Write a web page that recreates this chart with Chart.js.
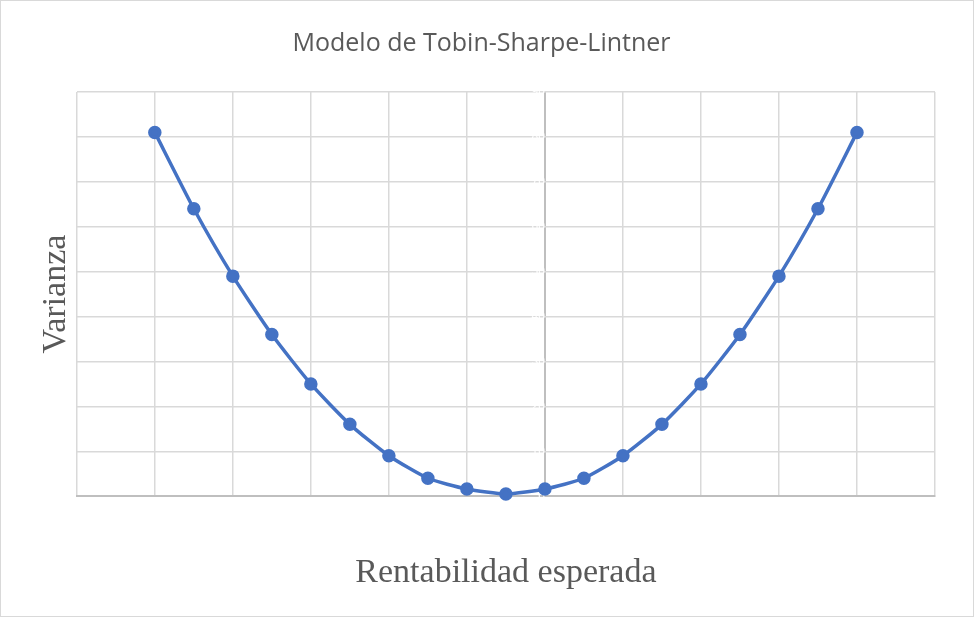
<!DOCTYPE html>
<html>
<head>
<meta charset="utf-8">
<script src="https://cdn.jsdelivr.net/npm/chart.js@4"></script>
<style>
    body { margin: 0; background: #fff; }
    #wrap { width: 974px; height: 617px; box-sizing: border-box; border: 1px solid #d9d9d9; }
</style>
</head>
<body>
<div id="wrap"><canvas id="tobin-chart"></canvas></div>
<script>
// TOBIN-SHARPE-LINTNER CURVE
const rentabilidad = [-5, -4.5, -4, -3.5, -3, -2.5, -2, -1.5, -1, -0.5, 0, 0.5, 1, 1.5, 2, 2.5, 3, 3.5, 4];
const varianza = [81, 64, 49, 36, 25, 16, 9, 4, 1.6, 0.5, 1.6, 4, 9, 16, 25, 36, 49, 64, 81];
const yTicks = [0, 10, 20, 30, 40, 50, 60, 70, 80, 90];

const points = rentabilidad.map((x, i) => ({ x: x, y: varianza[i] }));

const tobinCtx = document.getElementById('tobin-chart').getContext('2d');

new Chart(tobinCtx, {
    type: 'scatter',
    data: {
        datasets: [{
            data: points,
            showLine: true,
            borderColor: '#4472c4',
            backgroundColor: '#4472c4',
            borderWidth: 3.5,
            pointRadius: 5,
            pointHoverRadius: 5,
            tension: 0.2,
            clip: false
        }]
    },
    options: {
        responsive: true,
        maintainAspectRatio: false,
        animation: false,
        layout: { padding: { left: 27, right: 38, top: 10, bottom: 23 } },
        plugins: {
            legend: { display: false },
            tooltip: { enabled: false },
            title: {
                display: true,
                text: 'Modelo de Tobin-Sharpe-Lintner',
                color: '#595959',
                font: { family: 'Open Sans', size: 25, weight: 'normal', lineHeight: 1.2 },
                padding: { top: 18, bottom: 33 }
            }
        },
        scales: {
            x: {
                type: 'linear',
                min: -6,
                max: 5,
                ticks: { display: false, stepSize: 1 },
                grid: {
                    color: (c) => c.tick && c.tick.value === 0 ? '#bfbfbf' : '#d9d9d9',
                    lineWidth: (c) => c.tick && c.tick.value === 0 ? 2 : 1.5,
                    drawTicks: false
                },
                border: { color: '#bfbfbf', width: 2 },
                title: {
                    display: true,
                    text: 'Rentabilidad esperada',
                    color: '#595959',
                    font: { family: 'Liberation Serif', size: 34, lineHeight: 1.2 },
                    padding: { top: 56, bottom: 0 }
                }
            },
            y: {
                min: 0,
                max: 90,
                ticks: { display: false, stepSize: 10 },
                grid: { color: '#d9d9d9', lineWidth: 1.5, drawTicks: false },
                border: { display: false },
                title: {
                    display: true,
                    text: 'Varianza',
                    color: '#595959',
                    font: { family: 'Liberation Serif', size: 34, lineHeight: 1.2 },
                    padding: { top: 8, bottom: 0 }
                }
            },
            yAxis0: {
                axis: 'y',
                position: { x: 0 },
                min: 0,
                max: 90,
                afterBuildTicks: (scale) => { scale.ticks = yTicks.map(v => ({ value: v })); },
                ticks: { color: '#ffffff', font: { size: 12 }, padding: 14 },
                grid: { display: false, drawTicks: false },
                border: { display: false }
            }
        }
    }
});
</script>
</body>
</html>
